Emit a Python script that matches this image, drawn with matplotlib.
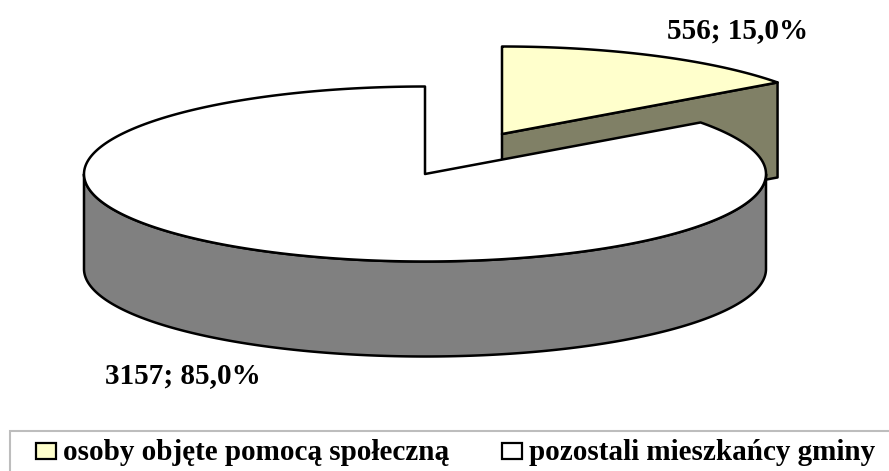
import numpy as np
import matplotlib
matplotlib.use("Agg")
import matplotlib.pyplot as plt
from matplotlib.patches import Polygon, Rectangle

values = [556, 3157]
data_labels = ["556; 15,0%", "3157; 85,0%"]
categories = ["osoby objęte pomocą społeczną", "pozostali mieszkańcy gminy"]
colors = ["#FFFFCC", "#FFFFFF"]
side_colors = ["#808066", "#808080"]

plt.rcParams["font.family"] = ["Liberation Serif", "DejaVu Serif"]
plt.rcParams["font.weight"] = "bold"

W, H = 889, 471
fig = plt.figure(figsize=(W / 100, H / 100), dpi=100)
ax = fig.add_axes([0, 0, 1, 1])
ax.set_xlim(0, W)
ax.set_ylim(H, 0)
ax.axis("off")

# geometria kola
cx, cy = 425, 174
rx, ry = 341, 87.5
depth = 95
shift_x, shift_y = 77, -40
lw = 1.8
fs = 21


def arc(x0, y0, a1, a2):
    # kat liczony od godziny 12 zgodnie z zegarem
    t = np.linspace(a1, a2, 300)
    return np.column_stack([x0 + rx * np.sin(t), y0 - ry * np.cos(t)])


end_angle = 2 * np.pi * values[0] / sum(values)

# wysuniety wycinek
x1, y1 = cx + shift_x, cy + shift_y
edge = arc(x1, y1, 0, end_angle)
end_pt = edge[-1]
wall = [[x1, y1], end_pt, end_pt + [0, depth], [x1, y1 + depth]]
ax.add_patch(Polygon(wall, closed=True, fc=side_colors[0], ec="black", lw=lw, joinstyle="round"))
ax.add_patch(Polygon(np.vstack([[x1, y1], edge]), closed=True, fc=colors[0], ec="black", lw=lw, joinstyle="round"))

# bok duzego wycinka
front = arc(cx, cy, np.pi / 2, 3 * np.pi / 2)
side = np.vstack([front, front[::-1] + [0, depth]])
ax.add_patch(Polygon(side, closed=True, fc=side_colors[1], ec="black", lw=lw, joinstyle="round"))

# gora duzego wycinka
edge2 = arc(cx, cy, end_angle, 2 * np.pi)
ax.add_patch(Polygon(np.vstack([[cx, cy], edge2]), closed=True, fc=colors[1], ec="black", lw=lw, joinstyle="round"))

# etykiety danych
ax.text(667, 31, data_labels[0], fontsize=fs, ha="left", va="center", color="black")
ax.text(105, 376, data_labels[1], fontsize=fs, ha="left", va="center", color="black")

# legenda
ax.add_patch(Rectangle((10, 430.5), W, 60, fc="white", ec="#BDBDBD", lw=1.5, clip_on=True))
for x_box, x_txt, col, name in zip([36, 502], [63, 529], colors, categories):
    ax.add_patch(Rectangle((x_box, 443), 20, 16, fc=col, ec="black", lw=1.6))
    ax.text(x_txt, 452, name, fontsize=fs, ha="left", va="center", color="black")

fig.savefig("out.png", dpi=100)
